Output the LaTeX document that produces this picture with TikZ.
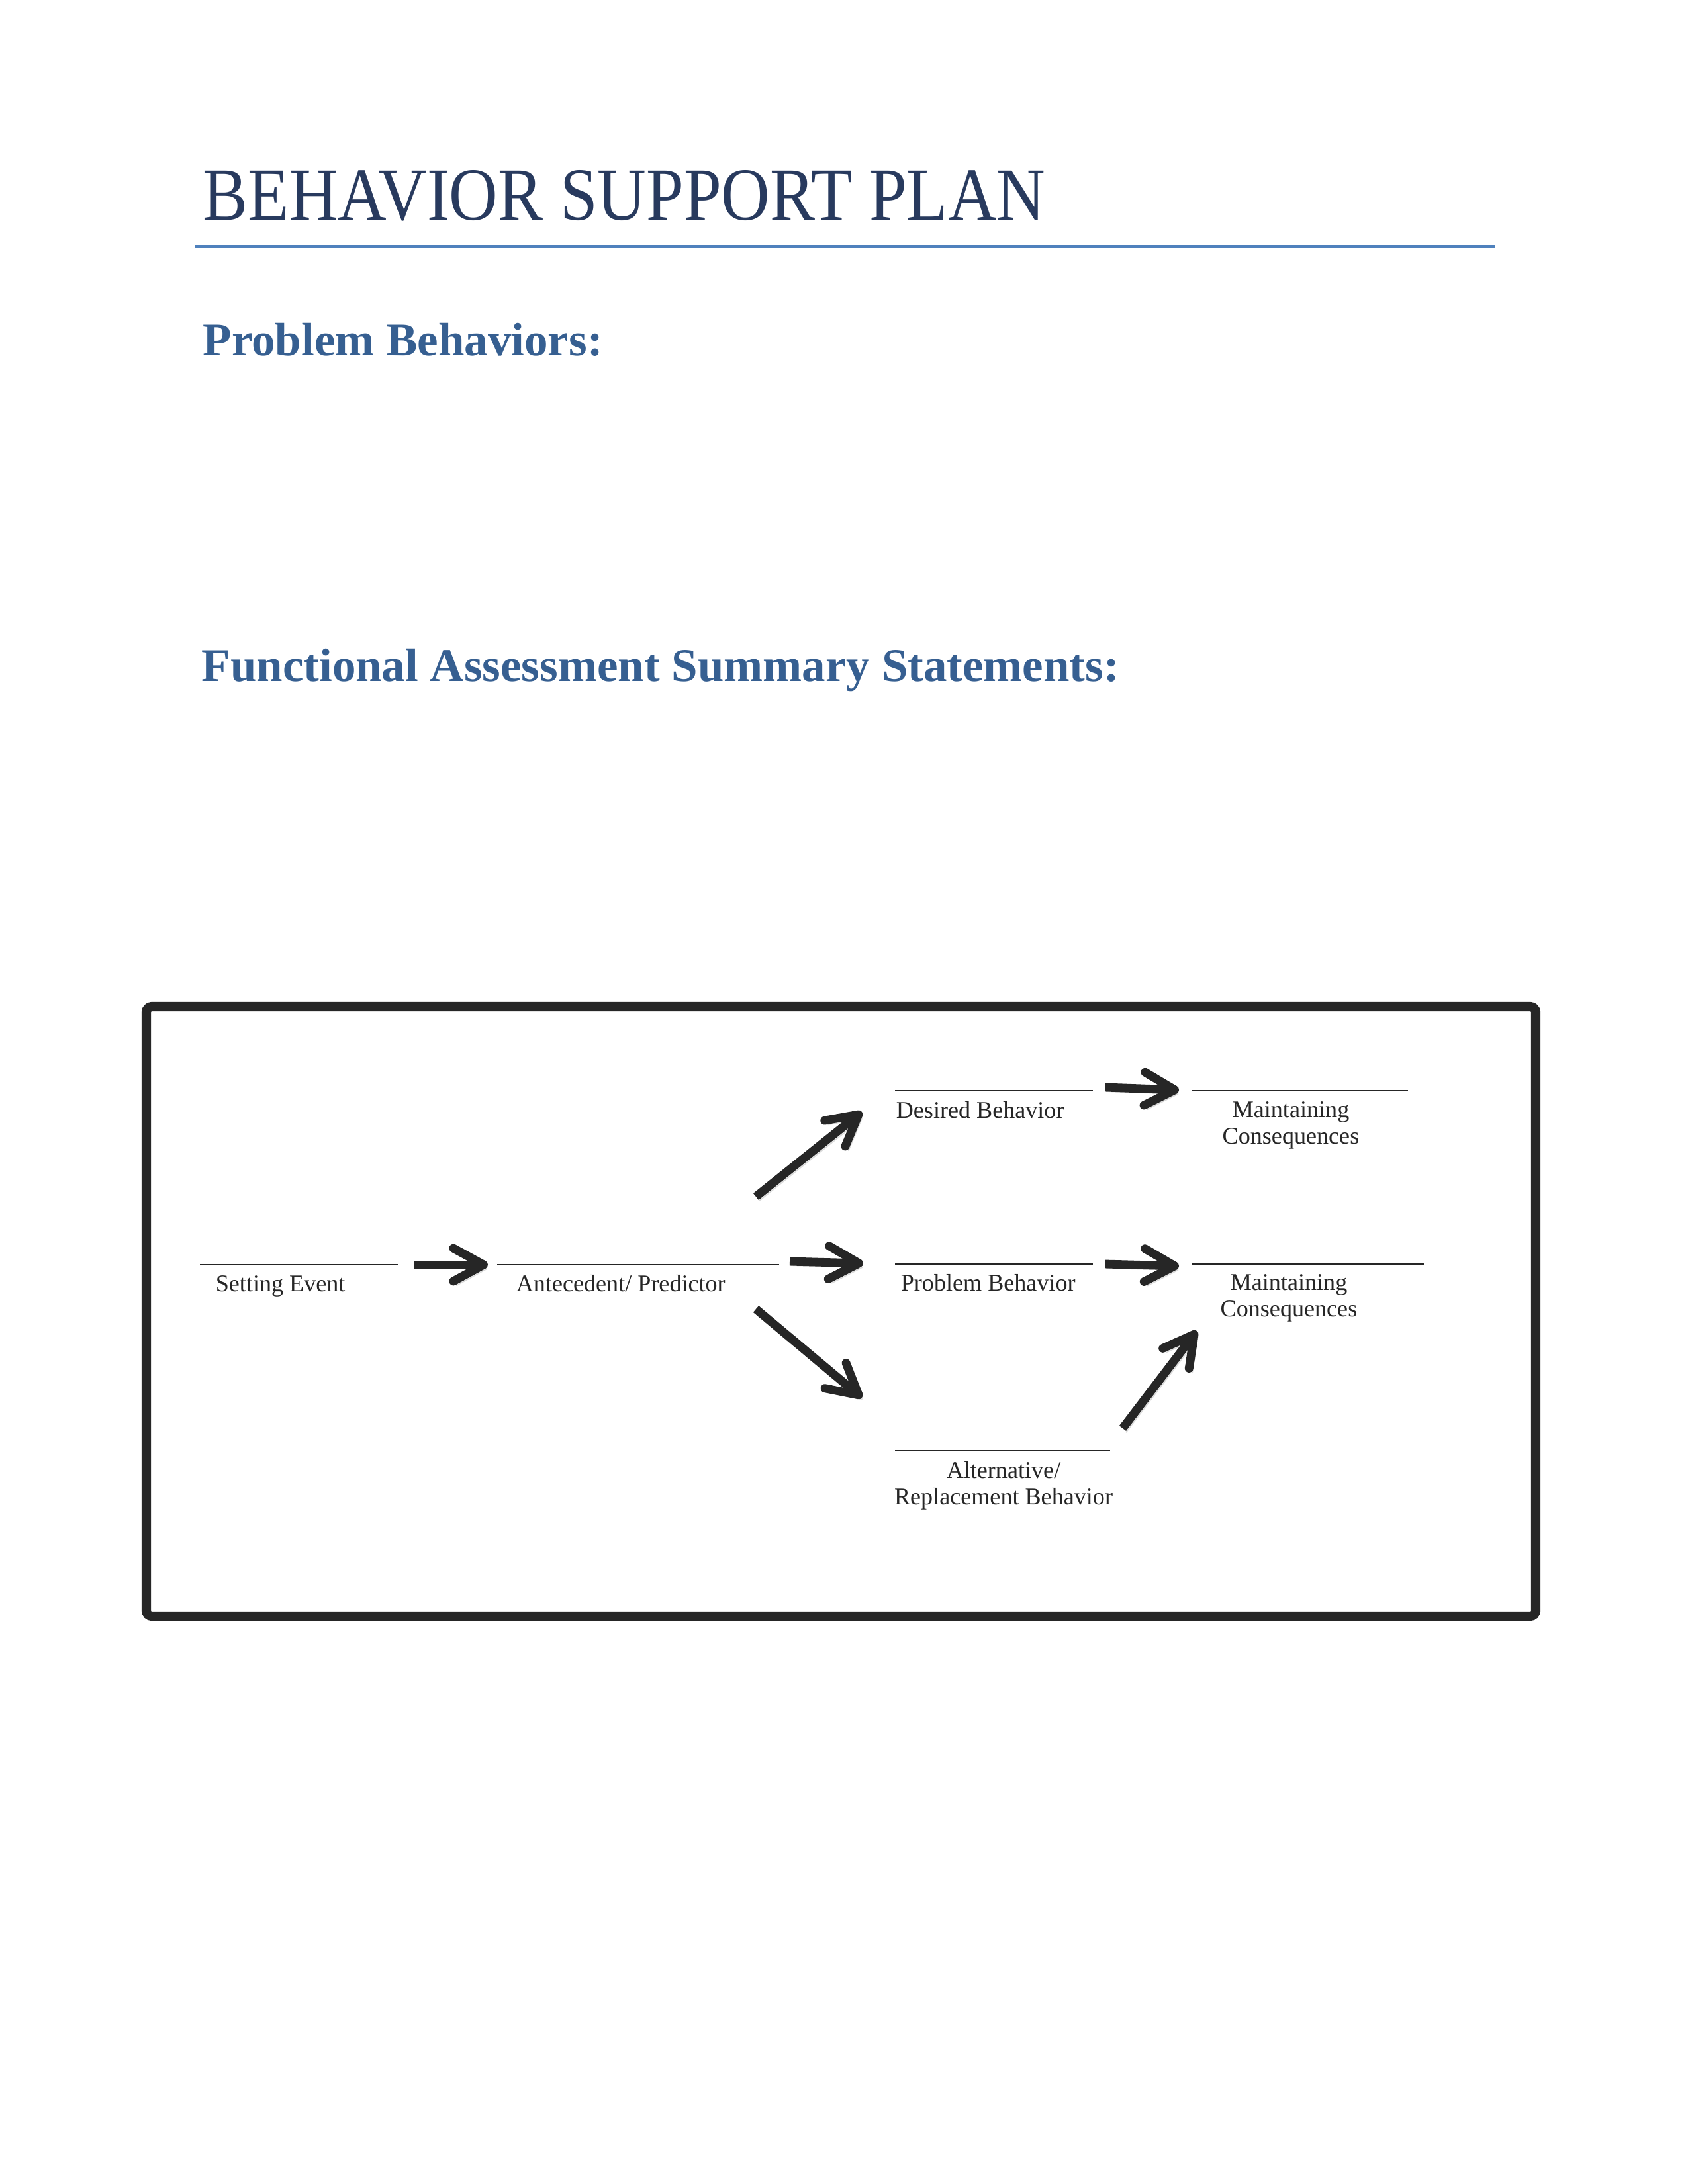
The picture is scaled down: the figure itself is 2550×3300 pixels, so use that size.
\documentclass[tikz,border=0pt]{standalone}
\usepackage{fontspec}
\setmainfont{Liberation Serif}
\newfontfamily\titlefont[FakeStretch=0.9]{Liberation Serif}
\usetikzlibrary{arrows.meta}
\definecolor{titleblue}{RGB}{40,58,94}
\definecolor{headblue}{RGB}{54,95,145}
\definecolor{ruleblue}{RGB}{79,129,189}
\definecolor{inkgray}{RGB}{38,38,38}

\begin{document}
\begin{tikzpicture}[x=0.2409pt, y=-0.2409pt,
    doctitle/.style={font=\titlefont\fontsize{27.3}{30}\selectfont, text=titleblue, anchor=base west, inner sep=0pt},
    heading/.style={font=\bfseries\fontsize{17.1}{20}\selectfont, text=headblue, anchor=base west, inner sep=0pt},
    blank/.style={black!85, line width=0.6pt},
    fieldtext/.style={font=\fontsize{8.7}{9.6}\selectfont, text=inkgray, inner sep=0pt},
    bigarrow/.style={inkgray, line width=3.1pt, -{Straight Barb[round, length=11pt, width=12pt]},
      preaction={draw=black!15, transform canvas={shift={(1.2pt,-1.5pt)}}}}
  ]
    \useasboundingbox (0,0) rectangle (2550,3300);

    % page headings
    \node[doctitle] (title) at (306,332) {BEHAVIOR SUPPORT PLAN};
    \draw[ruleblue, line width=1.2pt] (295,372) -- (2258,372);
    \node[heading] (probhead) at (306,537) {Problem Behaviors:};
    \node[heading] (fahead) at (304,1029) {Functional Assessment Summary Statements:};

    % frame
    \draw[inkgray, line width=3.4pt, rounded corners=2pt] (221,1521) rectangle (2320,2442);

    % blanks to fill in
    \draw[blank] (302,1911) -- (601,1911);
    \draw[blank] (751,1911) -- (1177,1911);
    \draw[blank] (1352,1648) -- (1651,1648);
    \draw[blank] (1801,1648) -- (2127,1648);
    \draw[blank] (1352,1910) -- (1651,1910);
    \draw[blank] (1801,1910) -- (2151,1910);
    \draw[blank] (1352,2192) -- (1677,2192);

    \node[fieldtext, anchor=base west] (setting) at (325,1951) {Setting Event};
    \node[fieldtext, anchor=base west] (antecedent) at (779,1951) {Antecedent/ Predictor};
    \node[fieldtext, anchor=base west] (desired) at (1353,1689) {Desired Behavior};
    \node[fieldtext, anchor=base west] (problem) at (1360,1950) {Problem Behavior};
    \node[fieldtext, anchor=north, align=center] (conseqtop) at (1950,1664) {Maintaining\\Consequences};
    \node[fieldtext, anchor=north, align=center] (conseqmid) at (1947,1925) {Maintaining\\Consequences};
    \node[fieldtext, anchor=north, align=center] (replace) at (1516,2208) {Alternative/\\Replacement Behavior};

    % arrow ends
    \coordinate (se-out) at (626,1911);
    \coordinate (ap-in) at (737,1911);
    \coordinate (ap-out) at (1193,1906);
    \coordinate (pb-in) at (1304,1909);
    \coordinate (ap-up) at (1142,1808);
    \coordinate (db-in) at (1302,1680);
    \coordinate (ap-down) at (1142,1978);
    \coordinate (ab-in) at (1302,2112);
    \coordinate (db-out) at (1670,1643);
    \coordinate (mt-in) at (1781,1647);
    \coordinate (pb-out) at (1670,1910);
    \coordinate (mm-in) at (1781,1913);
    \coordinate (ab-out) at (1696,2158);
    \coordinate (mm-low) at (1808,2011);

    \draw[bigarrow] (se-out) -- (ap-in);
    \draw[bigarrow] (ap-out) -- (pb-in);
    \draw[bigarrow] (ap-up) -- (db-in);
    \draw[bigarrow] (ap-down) -- (ab-in);
    \draw[bigarrow] (db-out) -- (mt-in);
    \draw[bigarrow] (pb-out) -- (mm-in);
    \draw[bigarrow] (ab-out) -- (mm-low);
\end{tikzpicture}
\end{document}
